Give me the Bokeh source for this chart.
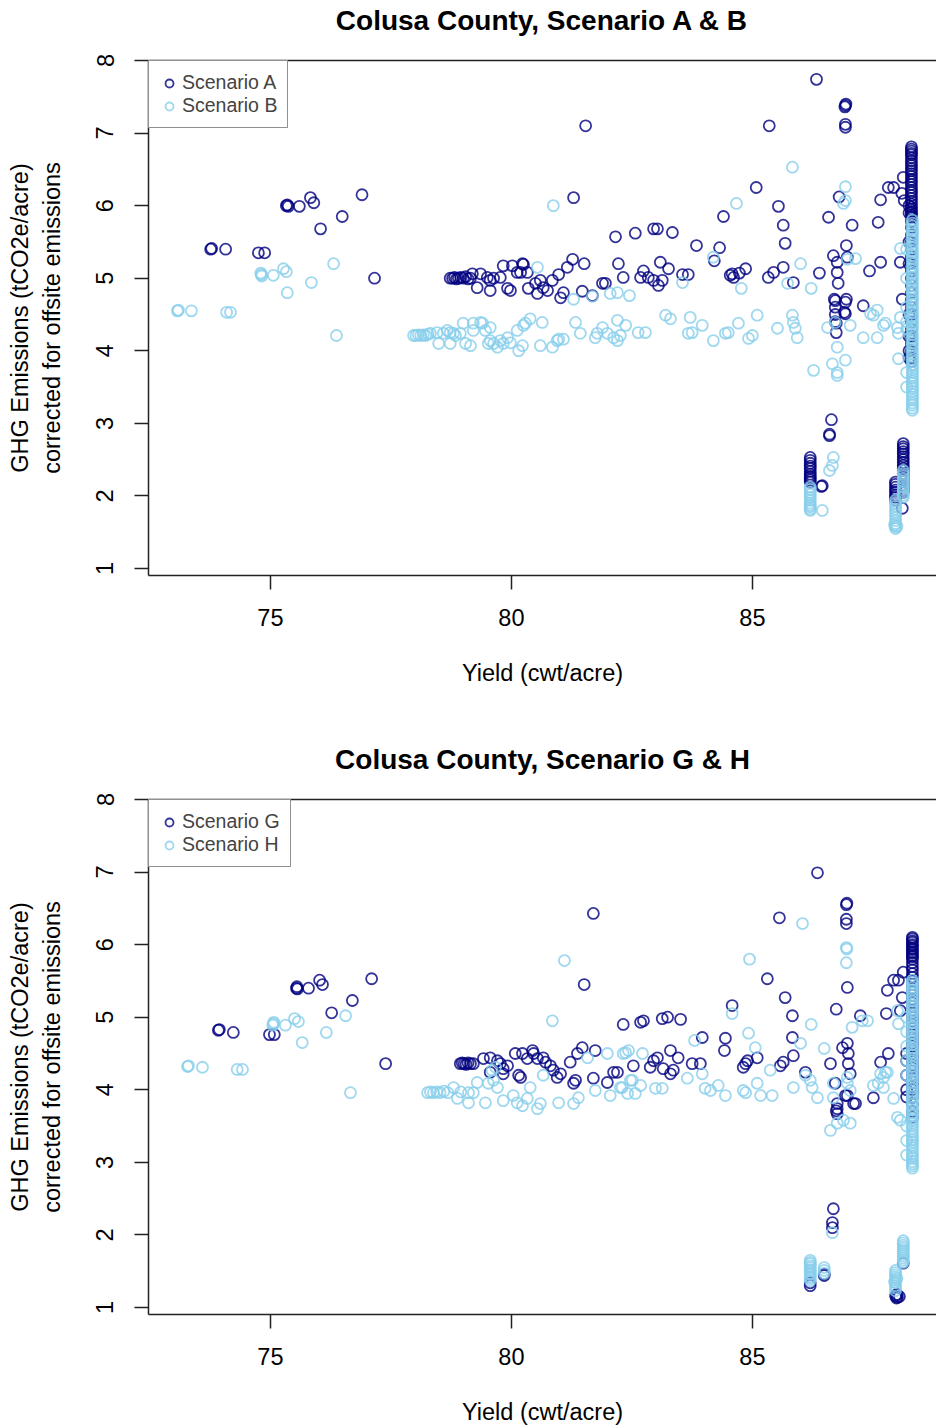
from bokeh.plotting import figure
from bokeh.models import Range1d, FixedTicker, LinearAxis, Legend, LegendItem
from bokeh.layouts import column
from bokeh.embed import file_html
from bokeh.resources import INLINE

# ---------------- data (yield cwt/acre, GHG tCO2e/acre) ----------------
titles = ["Colusa County, Scenario A & B", "Colusa County, Scenario G & H"]
labels = [["Scenario A", "Scenario B"], ["Scenario G", "Scenario H"]]
x_ticks = [75, 80, 85]
y_ticks = [1, 2, 3, 4, 5, 6, 7, 8]

scen_a = [
    (73.76, 5.40), (73.78, 5.41), (74.07, 5.40), (74.75, 5.35), (74.88, 5.35),
    (75.33, 6.00), (75.35, 6.01), (75.37, 5.99), (75.60, 5.99), (75.83, 6.11), (75.90, 6.04),
    (76.04, 5.68), (76.49, 5.85), (76.90, 6.15), (77.16, 5.00),
    (78.73, 5.00), (78.78, 5.00), (78.82, 5.01), (78.86, 4.99), (78.90, 5.00), (78.95, 5.01),
    (79.00, 5.00), (79.05, 5.02), (79.10, 4.99), (79.15, 5.00),
    (79.19, 5.06), (79.36, 5.06), (79.50, 5.01), (79.63, 5.00), (79.77, 5.01), (79.56, 4.97),
    (79.56, 4.83), (79.29, 4.87), (79.83, 5.17), (80.02, 5.17), (79.92, 4.86), (79.98, 4.83),
    (80.35, 4.86), (80.23, 5.20), (80.25, 5.19), (80.19, 5.08), (80.12, 5.08), (80.33, 5.08),
    (80.85, 4.97), (80.60, 4.97), (80.50, 4.93), (80.54, 4.79), (80.66, 4.87), (80.75, 4.83),
    (81.02, 4.73), (81.08, 4.80), (81.47, 4.82), (81.68, 4.76), (81.27, 5.26), (81.16, 5.15),
    (80.98, 5.05), (81.51, 5.20), (81.89, 4.93), (81.95, 4.93), (82.22, 5.20), (82.32, 5.01),
    (82.74, 5.10), (82.68, 5.01), (82.84, 5.01), (82.95, 4.97), (83.05, 4.90), (83.13, 4.97),
    (83.09, 5.22), (83.26, 5.13), (83.55, 5.05), (83.67, 5.05),
    (82.16, 5.57), (82.57, 5.62), (82.95, 5.68), (83.03, 5.68), (83.34, 5.63), (83.84, 5.45),
    (84.32, 5.42), (84.21, 5.24), (84.54, 5.04), (84.61, 5.01), (84.73, 5.07), (84.86, 5.13),
    (84.58, 5.06), (85.33, 5.01), (85.44, 5.08), (85.64, 5.15), (85.85, 4.94),
    (84.40, 5.85), (85.64, 5.73), (85.68, 5.48), (85.54, 5.99), (85.08, 6.25), (81.29, 6.11),
    (81.54, 7.10), (85.35, 7.10), (86.33, 7.74), (86.93, 7.38), (86.94, 7.40), (86.92, 7.36),
    (86.93, 7.12), (86.93, 7.08), (86.80, 6.12), (86.58, 5.84), (87.07, 5.73), (86.95, 5.45),
    (87.66, 6.08), (87.61, 5.77), (87.82, 6.25), (87.93, 6.25), (88.13, 6.39), (88.10, 6.17),
    (88.15, 6.07), (86.68, 5.31), (86.76, 5.22), (86.97, 5.29), (87.66, 5.22), (87.43, 5.10),
    (86.39, 5.07), (86.76, 5.08), (86.78, 4.93), (86.70, 4.71), (86.95, 4.71), (86.91, 4.53),
    (87.30, 4.62), (86.74, 4.38), (86.74, 4.25), (88.11, 4.71), (86.72, 4.69), (86.72, 4.60),
    (86.72, 4.50), (86.72, 4.40), (86.93, 4.67), (86.93, 4.51), (88.07, 5.22),
    (86.64, 3.05), (86.60, 2.83), (86.60, 2.85),
    (86.20, 2.53), (86.20, 2.49), (86.20, 2.45), (86.20, 2.41), (86.20, 2.38), (86.20, 2.34),
    (86.20, 2.30), (86.20, 2.27), (86.20, 2.25), (86.20, 2.22), (86.20, 2.19),
    (86.45, 2.14), (86.43, 2.13),
    (88.13, 2.72), (88.13, 2.68), (88.13, 2.65), (88.13, 2.61), (88.13, 2.58), (88.13, 2.54),
    (88.13, 2.50), (88.13, 2.46), (88.13, 2.42), (88.13, 2.38), (88.13, 2.35), (88.13, 2.31),
    (88.13, 2.28), (88.13, 2.24), (88.13, 2.20), (88.13, 2.16), (88.13, 2.12), (88.13, 2.08),
    (88.13, 2.05),
    (87.97, 2.19), (87.97, 2.16), (87.97, 2.12), (87.97, 2.08), (87.97, 2.05), (87.97, 2.01),
    (87.97, 1.98), (87.97, 1.94), (88.11, 1.83),
    (88.30, 6.81), (88.30, 6.78), (88.30, 6.75), (88.30, 6.72), (88.30, 6.70), (88.30, 6.66),
    (88.30, 6.62), (88.30, 6.58), (88.30, 6.55), (88.30, 6.51), (88.30, 6.48), (88.30, 6.44),
    (88.30, 6.40), (88.30, 6.36), (88.30, 6.33), (88.30, 6.29), (88.30, 6.25), (88.30, 6.21),
    (88.30, 6.18), (88.30, 6.14), (88.30, 6.10), (88.30, 6.06), (88.30, 6.02), (88.30, 5.98),
    (88.30, 5.95), (88.30, 5.92), (88.30, 5.90), (88.30, 5.87), (88.30, 5.84), (88.30, 5.78),
    (88.30, 5.70), (88.30, 5.60),
    (88.30, 5.50), (88.30, 5.40), (88.30, 5.30), (88.30, 5.20), (88.30, 5.10), (88.30, 5.00),
    (88.30, 4.90), (88.30, 4.80), (88.30, 4.70), (88.30, 4.60), (88.30, 4.50), (88.30, 4.40),
    (88.30, 4.30), (88.30, 4.20), (88.30, 4.10), (88.30, 4.00), (88.30, 3.90), (88.30, 3.85),
    (88.25, 6.00), (88.25, 5.90), (88.25, 5.50), (88.25, 5.20), (88.25, 4.50), (88.25, 4.20),
    (88.25, 4.00), (88.25, 3.90),
]

scen_b = [
    (73.07, 4.55), (73.09, 4.56), (73.36, 4.55), (74.09, 4.53), (74.17, 4.53),
    (74.81, 5.05), (74.82, 5.03), (74.80, 5.07), (75.06, 5.04), (75.27, 5.13), (75.33, 5.09),
    (75.35, 4.80), (75.85, 4.94), (76.31, 5.20), (76.37, 4.21),
    (77.97, 4.21), (78.02, 4.21), (78.07, 4.22), (78.12, 4.21), (78.17, 4.22), (78.22, 4.21),
    (78.27, 4.23), (78.32, 4.24), (78.46, 4.25), (78.59, 4.24), (78.73, 4.25), (78.84, 4.21),
    (78.94, 4.24), (78.49, 4.10), (78.73, 4.10), (79.05, 4.10), (79.15, 4.07),
    (79.00, 4.38), (79.21, 4.38), (79.36, 4.39), (79.40, 4.38), (79.21, 4.28), (79.46, 4.28),
    (79.56, 4.32), (78.80, 4.24), (78.67, 4.28), (79.52, 4.10), (79.71, 4.05), (79.77, 4.14),
    (79.83, 4.10), (79.92, 4.18), (79.98, 4.11), (79.63, 4.10), (79.56, 4.14),
    (80.15, 4.00), (80.23, 4.07), (80.12, 4.28), (80.29, 4.38), (80.39, 4.44), (80.64, 4.39),
    (80.25, 4.35), (80.60, 4.07), (80.85, 4.05), (80.98, 4.16), (81.08, 4.16), (80.95, 4.14),
    (81.33, 4.39), (81.43, 4.24), (81.74, 4.18), (81.89, 4.32), (81.99, 4.24), (82.20, 4.42),
    (82.20, 4.14), (82.37, 4.35), (82.26, 4.21), (82.12, 4.18), (81.78, 4.24),
    (82.63, 4.25), (82.78, 4.25), (83.20, 4.49), (83.30, 4.44), (83.71, 4.46), (83.75, 4.25),
    (83.67, 4.24), (83.96, 4.35), (84.19, 4.14), (84.44, 4.24), (84.50, 4.25), (84.71, 4.38),
    (84.92, 4.17), (85.00, 4.21), (85.10, 4.49), (85.52, 4.31), (85.83, 4.49), (85.85, 4.39),
    (85.89, 4.31), (85.93, 4.18), (86.27, 3.73), (86.56, 4.32), (86.72, 4.39), (86.76, 4.05),
    (86.66, 3.82), (86.76, 3.70), (86.76, 3.66), (86.93, 3.87), (87.03, 4.35), (87.30, 4.18),
    (87.45, 4.51), (87.51, 4.49), (87.59, 4.56), (87.72, 4.35), (87.59, 4.18), (88.03, 4.24),
    (88.03, 3.89), (88.07, 4.46), (87.76, 4.38), (88.01, 4.32),
    (80.87, 6.00), (80.54, 5.15), (81.29, 4.71), (81.68, 4.75), (82.05, 4.79), (82.20, 4.80),
    (82.45, 4.76), (83.55, 4.94), (84.19, 5.29), (84.67, 6.03), (84.77, 4.86), (85.73, 4.93),
    (86.22, 4.86), (86.00, 5.20), (85.83, 6.53), (86.93, 6.26), (86.93, 6.07), (86.89, 6.03),
    (87.14, 5.27), (86.97, 5.26), (88.07, 5.41),
    (86.68, 2.53), (86.66, 2.42), (86.60, 2.35),
    (86.20, 2.12), (86.20, 2.09), (86.20, 2.05), (86.20, 2.02), (86.20, 1.98), (86.20, 1.94),
    (86.20, 1.90), (86.20, 1.87), (86.20, 1.85), (86.20, 1.82), (86.20, 1.80),
    (86.45, 1.80),
    (87.97, 1.94), (87.97, 1.90), (87.97, 1.86), (87.97, 1.82), (87.97, 1.78), (87.97, 1.74),
    (87.97, 1.70), (87.97, 1.66), (87.97, 1.62), (87.97, 1.58), (87.97, 1.55),
    (87.95, 1.60), (88.00, 1.58),
    (88.13, 2.35), (88.13, 2.31), (88.13, 2.28), (88.13, 2.24), (88.13, 2.20), (88.13, 2.16),
    (88.13, 2.12), (88.13, 2.08), (88.13, 2.05), (88.13, 2.01), (88.13, 1.98),
    (88.32, 5.80), (88.32, 5.76), (88.32, 5.72), (88.32, 5.68), (88.32, 5.65), (88.32, 5.61),
    (88.32, 5.58), (88.32, 5.54), (88.32, 5.50), (88.32, 5.46), (88.32, 5.42), (88.32, 5.38),
    (88.32, 5.35), (88.32, 5.31), (88.32, 5.28), (88.32, 5.24), (88.32, 5.20), (88.32, 5.16),
    (88.32, 5.12), (88.32, 5.08), (88.32, 5.05), (88.32, 5.01), (88.32, 4.98), (88.32, 4.94),
    (88.32, 4.90), (88.32, 4.86), (88.32, 4.82), (88.32, 4.79), (88.32, 4.75), (88.32, 4.71),
    (88.32, 4.68), (88.32, 4.64), (88.32, 4.60), (88.32, 4.56), (88.32, 4.52), (88.32, 4.48),
    (88.32, 4.45), (88.32, 4.41), (88.32, 4.38), (88.32, 4.34), (88.32, 4.30), (88.32, 4.26),
    (88.32, 4.22), (88.32, 4.18), (88.32, 4.15), (88.32, 4.11), (88.32, 4.08), (88.32, 4.04),
    (88.32, 4.00), (88.32, 3.96), (88.32, 3.92), (88.32, 3.88), (88.32, 3.85), (88.32, 3.81),
    (88.32, 3.78), (88.32, 3.74), (88.32, 3.70), (88.32, 3.66), (88.32, 3.62), (88.32, 3.58),
    (88.32, 3.55), (88.32, 3.51), (88.32, 3.48), (88.32, 3.44), (88.32, 3.40), (88.32, 3.36),
    (88.32, 3.32), (88.32, 3.28), (88.32, 3.25), (88.32, 3.21), (88.32, 3.18),
    (88.20, 5.40), (88.20, 5.00), (88.20, 4.60), (88.20, 4.40), (88.20, 4.30), (88.20, 3.70),
    (88.20, 3.50),
]

scen_g = [
    (73.92, 4.82), (73.94, 4.83), (74.23, 4.79), (74.98, 4.76), (75.08, 4.76),
    (75.54, 5.40), (75.55, 5.42), (75.56, 5.39), (75.79, 5.40), (76.02, 5.51), (76.08, 5.45),
    (76.27, 5.06), (76.70, 5.23), (77.10, 5.53), (77.39, 4.36),
    (78.94, 4.36), (78.98, 4.37), (79.02, 4.36), (79.06, 4.35), (79.10, 4.37), (79.15, 4.36),
    (79.21, 4.36), (79.42, 4.43), (79.56, 4.44), (79.71, 4.40), (79.77, 4.36), (79.92, 4.33),
    (79.83, 4.29), (79.56, 4.24), (79.83, 4.22),
    (80.08, 4.50), (80.23, 4.50), (80.44, 4.54), (80.46, 4.50), (80.33, 4.43), (80.54, 4.43),
    (80.66, 4.44), (80.71, 4.38), (80.81, 4.33), (80.87, 4.27), (81.02, 4.22), (80.95, 4.17),
    (80.19, 4.17), (80.15, 4.20), (81.22, 4.38), (81.37, 4.50), (81.47, 4.58), (81.74, 4.54),
    (81.29, 4.09), (81.33, 4.13), (81.70, 4.16), (81.99, 4.10), (82.12, 4.24), (82.20, 4.24),
    (82.53, 4.33), (82.68, 4.93), (82.32, 4.90), (82.74, 4.95), (83.13, 4.98), (83.24, 5.00),
    (83.51, 4.97), (82.95, 4.40), (83.03, 4.44), (82.88, 4.31), (83.30, 4.54), (83.46, 4.44),
    (83.36, 4.27), (83.30, 4.22), (83.75, 4.36), (83.92, 4.36), (83.15, 4.29),
    (83.96, 4.72), (84.44, 4.71), (84.42, 4.54), (84.58, 5.16), (84.86, 4.36), (84.81, 4.31),
    (84.90, 4.40), (85.10, 4.44), (85.58, 4.33), (85.64, 4.38), (85.83, 4.72), (85.85, 4.47),
    (86.10, 4.24), (86.62, 4.36),
    (81.70, 6.43), (81.51, 5.45), (85.56, 6.37), (85.31, 5.53), (85.68, 5.27), (85.83, 5.02),
    (86.35, 6.99), (86.95, 6.55), (86.96, 6.57), (86.95, 6.35), (86.95, 6.29), (86.97, 5.41),
    (86.74, 5.11), (87.24, 5.02), (87.80, 5.37), (87.78, 5.05), (87.93, 5.51), (88.03, 5.51),
    (88.13, 5.62), (88.11, 5.27), (88.07, 5.09),
    (86.87, 4.58), (86.97, 4.64), (86.99, 4.50), (87.03, 4.22), (86.99, 4.36), (86.72, 4.09),
    (86.93, 3.92), (87.14, 3.81), (87.66, 4.38), (87.82, 4.50), (87.51, 3.89), (86.74, 3.71),
    (86.76, 3.81), (86.76, 3.74), (86.76, 3.67), (87.10, 3.81), (86.97, 3.92),
    (86.68, 2.36), (86.66, 2.17), (86.66, 2.10),
    (86.20, 1.30), (86.20, 1.34), (86.49, 1.44), (86.49, 1.46), (88.13, 1.61),
    (88.01, 1.14), (87.97, 1.16), (88.05, 1.15), (88.00, 1.18), (87.99, 1.13),
    (88.32, 6.10), (88.32, 6.08), (88.32, 6.05), (88.32, 6.03), (88.32, 6.00), (88.32, 5.98),
    (88.32, 5.95), (88.32, 5.93), (88.32, 5.90), (88.32, 5.88), (88.32, 5.85), (88.32, 5.83),
    (88.32, 5.80), (88.32, 5.75), (88.32, 5.70), (88.32, 5.65), (88.32, 5.60), (88.32, 5.55),
    (88.32, 5.50), (88.32, 5.45), (88.32, 5.40), (88.32, 5.35), (88.32, 5.30), (88.32, 5.25),
    (88.32, 5.20), (88.32, 5.15), (88.32, 5.10), (88.32, 5.05), (88.32, 5.00), (88.32, 4.95),
    (88.32, 4.90), (88.32, 4.85), (88.32, 4.80), (88.32, 4.75), (88.32, 4.70), (88.32, 4.65),
    (88.32, 4.60), (88.32, 4.55), (88.32, 4.50), (88.32, 4.45), (88.32, 4.40), (88.32, 4.35),
    (88.32, 4.30), (88.32, 4.25), (88.32, 4.20), (88.32, 4.15), (88.32, 4.10), (88.32, 4.05),
    (88.32, 4.00), (88.32, 3.95), (88.32, 3.89), (88.32, 3.80), (88.32, 3.70), (88.32, 3.62),
    (88.20, 4.50), (88.20, 4.40), (88.20, 4.20), (88.20, 4.00), (88.20, 3.90),
]

scen_h = [
    (73.28, 4.32), (73.30, 4.33), (73.59, 4.31), (74.31, 4.28), (74.42, 4.28),
    (75.06, 4.91), (75.07, 4.93), (75.05, 4.89), (75.31, 4.89), (75.50, 4.98), (75.58, 4.94),
    (75.66, 4.65), (76.16, 4.79), (76.56, 5.02), (76.66, 3.96),
    (78.26, 3.96), (78.32, 3.97), (78.38, 3.96), (78.45, 3.97), (78.52, 3.96), (78.60, 3.98),
    (78.68, 3.96), (78.80, 4.03), (78.88, 3.88), (78.95, 3.97), (79.11, 3.96), (79.21, 3.96),
    (79.29, 4.10), (79.52, 4.09), (79.63, 4.13), (79.71, 4.03), (79.46, 3.82), (79.11, 3.82),
    (79.83, 3.85), (80.04, 3.92), (80.12, 3.82), (80.23, 3.78), (80.33, 3.88), (80.60, 3.81),
    (80.54, 3.74), (80.66, 4.20), (80.39, 4.03), (80.98, 3.82), (81.29, 3.81), (81.39, 3.89),
    (81.58, 4.44), (81.74, 3.99), (81.99, 4.50), (82.05, 3.92), (82.26, 4.03), (82.37, 4.51),
    (82.47, 4.13), (82.57, 3.95), (79.60, 4.27), (79.67, 4.31),
    (82.32, 4.50), (82.43, 4.54), (82.72, 4.50), (82.51, 4.13), (82.68, 4.06), (82.41, 3.95),
    (82.30, 4.03), (82.99, 4.02), (83.13, 4.02), (83.65, 4.16), (83.96, 4.22), (84.02, 4.02),
    (84.13, 3.99), (84.29, 4.06), (84.44, 3.92), (84.81, 3.99), (84.86, 3.96), (85.10, 4.09),
    (85.17, 3.92), (85.41, 3.92), (85.85, 4.03), (85.37, 4.27), (86.10, 4.20), (86.20, 4.13),
    (86.24, 4.03), (86.35, 3.89), (86.68, 4.09), (86.68, 3.89), (86.97, 4.17), (86.97, 4.09),
    (87.03, 3.99),
    (81.10, 5.78), (80.85, 4.95), (86.04, 6.29), (84.94, 5.80), (86.95, 5.96), (86.95, 5.75),
    (86.96, 5.94), (84.58, 5.05), (86.22, 4.90), (87.07, 4.86), (87.28, 4.95), (87.39, 4.95),
    (83.80, 4.68), (84.92, 4.78), (85.06, 4.58), (86.00, 4.64), (86.49, 4.57),
    (88.01, 5.09), (88.03, 4.91), (87.80, 4.24), (87.72, 4.17), (87.51, 4.06), (87.61, 4.09),
    (87.66, 4.22), (87.76, 4.24), (87.72, 4.03), (87.93, 3.88),
    (86.62, 3.44), (86.76, 3.54), (86.89, 3.58), (87.03, 3.54), (86.66, 2.03),
    (86.20, 1.65), (86.20, 1.62), (86.20, 1.60), (86.20, 1.57), (86.20, 1.55), (86.20, 1.52),
    (86.20, 1.50), (86.20, 1.47), (86.20, 1.45), (86.20, 1.42), (86.20, 1.40), (86.20, 1.37),
    (86.49, 1.55), (86.49, 1.51), (86.49, 1.47),
    (88.13, 1.92), (88.13, 1.89), (88.13, 1.86), (88.13, 1.83), (88.13, 1.80), (88.13, 1.77),
    (88.13, 1.74), (88.13, 1.71), (88.13, 1.68), (88.13, 1.65), (88.13, 1.62),
    (87.97, 1.51), (87.97, 1.48), (87.97, 1.45), (87.97, 1.42), (87.97, 1.38), (87.97, 1.34),
    (87.97, 1.30), (87.97, 1.27), (87.97, 1.23), (88.00, 1.40), (87.95, 1.35),
    (88.01, 3.62), (88.07, 3.58),
    (88.32, 5.51), (88.32, 5.48), (88.32, 5.45), (88.32, 5.41), (88.32, 5.38), (88.32, 5.34),
    (88.32, 5.30), (88.32, 5.26), (88.32, 5.22), (88.32, 5.18), (88.32, 5.15), (88.32, 5.11),
    (88.32, 5.08), (88.32, 5.04), (88.32, 5.00), (88.32, 4.96), (88.32, 4.92), (88.32, 4.88),
    (88.32, 4.85), (88.32, 4.81), (88.32, 4.78), (88.32, 4.74), (88.32, 4.70), (88.32, 4.66),
    (88.32, 4.62), (88.32, 4.58), (88.32, 4.55), (88.32, 4.51), (88.32, 4.48), (88.32, 4.44),
    (88.32, 4.40), (88.32, 4.36), (88.32, 4.32), (88.32, 4.28), (88.32, 4.25), (88.32, 4.21),
    (88.32, 4.18), (88.32, 4.14), (88.32, 4.10), (88.32, 4.06), (88.32, 4.02), (88.32, 3.98),
    (88.32, 3.95), (88.32, 3.91), (88.32, 3.88), (88.32, 3.84), (88.32, 3.80), (88.32, 3.76),
    (88.32, 3.72), (88.32, 3.68), (88.32, 3.65), (88.32, 3.61), (88.32, 3.58), (88.32, 3.54),
    (88.32, 3.50), (88.32, 3.46), (88.32, 3.42), (88.32, 3.38), (88.32, 3.35), (88.32, 3.31),
    (88.32, 3.28), (88.32, 3.24), (88.32, 3.20), (88.32, 3.16), (88.32, 3.12), (88.32, 3.08),
    (88.32, 3.05), (88.32, 3.01), (88.32, 2.98), (88.32, 2.95), (88.32, 2.92),
    (88.20, 5.00), (88.20, 4.80), (88.20, 4.60), (88.20, 4.40), (88.20, 4.20), (88.20, 3.50),
    (88.20, 3.30), (88.20, 3.10),
]

colors = ["#000080", "#87CEEB"]
FONT = "Liberation Sans"
AX = "#222222"


def make_panel(title, series, names, height, bottom):
    p = figure(width=936, height=height, output_backend="svg", toolbar_location=None,
               x_range=Range1d(72.47, 88.82), y_range=Range1d(0.903, 8.0),
               min_border_left=148, min_border_right=0, min_border_top=60,
               min_border_bottom=bottom)
    p.grid.visible = False
    p.outline_line_color = None
    p.background_fill_color = "white"
    p.border_fill_color = "white"

    bx = p.below[0]
    ly = p.left[0]
    for ax in (bx, ly):
        ax.axis_line_color = AX
        ax.axis_line_width = 1.5
        ax.major_tick_line_color = AX
        ax.major_tick_line_width = 1.5
        ax.major_tick_out = 14
        ax.major_tick_in = 0
        ax.minor_tick_line_color = None
        ax.major_label_text_font = FONT
        ax.major_label_text_font_size = "23.5px"
        ax.major_label_text_color = "black"
        ax.axis_label_text_font = FONT
        ax.axis_label_text_font_size = "23.5px"
        ax.axis_label_text_font_style = "normal"
        ax.axis_label_text_color = "black"
    bx.ticker = FixedTicker(ticks=x_ticks)
    ly.ticker = FixedTicker(ticks=y_ticks)
    bx.axis_label = "Yield (cwt/acre)"
    ly.axis_label = "GHG Emissions (tCO2e/acre)\ncorrected for offsite emissions"
    bx.major_label_standoff = 19
    bx.axis_label_standoff = 31
    ly.major_label_orientation = "vertical"
    ly.major_label_standoff = 21
    ly.axis_label_standoff = 29

    # top axis: draws the upper box line and carries the panel title
    top = LinearAxis(ticker=FixedTicker(ticks=[]), axis_label=title,
                     major_tick_out=0, major_tick_in=0, minor_tick_out=0, minor_tick_in=0,
                     major_label_text_font_size="0px", major_label_standoff=0,
                     axis_label_standoff=25, axis_label_text_font=FONT,
                     axis_label_text_font_size="28px", axis_label_text_font_style="bold",
                     axis_label_text_color="black",
                     axis_line_color=AX, axis_line_width=1.5)
    p.add_layout(top, "above")

    items = []
    for pts, col, name in zip(series, colors, names):
        xs = [pt[0] for pt in pts]
        ys = [pt[1] for pt in pts]
        r = p.scatter(xs, ys, marker="circle", size=11, fill_color=None,
                      line_color=col, line_width=1.8, line_alpha=0.8)
        items.append(LegendItem(label=name, renderers=[r]))

    leg = Legend(items=items, location="top_left", margin=0, padding=10, spacing=0,
                 glyph_width=20, glyph_height=22, label_height=22, label_standoff=3,
                 label_text_font=FONT, label_text_font_size="19.5px",
                 border_line_color=AX, border_line_width=1.5,
                 background_fill_color="white", background_fill_alpha=1.0)
    p.add_layout(leg)
    return p


p1 = make_panel(titles[0], [scen_a, scen_b], labels[0], 739, 164)
p2 = make_panel(titles[1], [scen_g, scen_h], labels[1], 689, 114)
layout = column(p1, p2)

open("out.html", "w").write(file_html(layout, INLINE))
